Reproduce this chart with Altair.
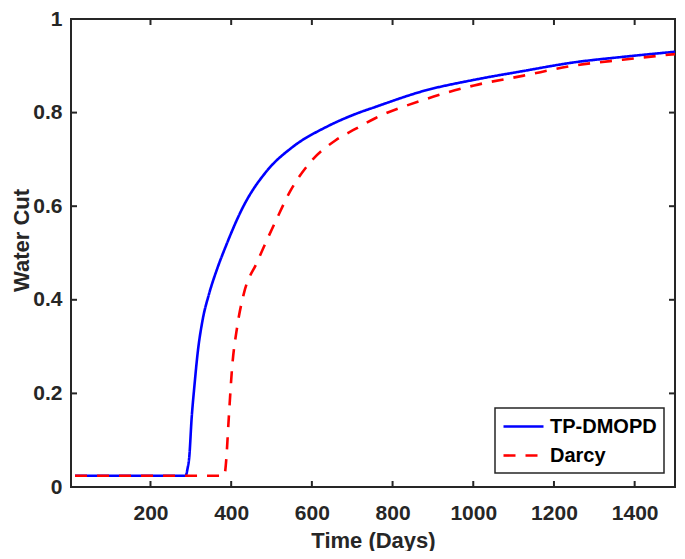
import altair as alt
import pandas as pd

# ---- data ----
days_tp = [13, 287, 292, 296, 302, 309, 317, 329, 345, 366, 386, 431, 488, 553, 635, 708, 757, 880, 1002, 1125, 1247, 1370, 1500]
wc_tp = [0.024, 0.024, 0.04, 0.063, 0.147, 0.217, 0.287, 0.356, 0.412, 0.468, 0.513, 0.601, 0.675, 0.727, 0.769, 0.797, 0.812, 0.847, 0.870, 0.889, 0.907, 0.919, 0.930]

days_darcy = [13, 383, 387, 394, 402, 415, 431, 464, 513, 545, 594, 659, 708, 757, 880, 1002, 1125, 1247, 1370, 1500]
wc_darcy = [0.024, 0.024, 0.05, 0.147, 0.252, 0.343, 0.412, 0.480, 0.573, 0.630, 0.692, 0.741, 0.765, 0.788, 0.828, 0.858, 0.879, 0.900, 0.913, 0.925]

series = ["TP-DMOPD", "Darcy"]
x_ticks = [200, 400, 600, 800, 1000, 1200, 1400]
y_ticks = [0, 0.2, 0.4, 0.6, 0.8, 1]

df_tp = pd.DataFrame({"Time": days_tp, "WC": wc_tp, "Model": series[0]})
df_da = pd.DataFrame({"Time": days_darcy, "WC": wc_darcy, "Model": series[1]})
df_xt = pd.DataFrame({"t": x_ticks})
df_yt = pd.DataFrame({"v": y_ticks[1:-1]})

W, H = 604, 468
FONT = "Liberation Sans"
DARK = "#262626"

xscale = alt.Scale(domain=[3, 1500], nice=False, zero=False)
yscale = alt.Scale(domain=[0, 1], nice=False)

color = alt.Color("Model:N", scale=alt.Scale(domain=series, range=["#0000ff", "#ff0000"]),
                  legend=alt.Legend(title=None))
dash = alt.StrokeDash("Model:N", scale=alt.Scale(domain=series, range=[[1, 0], [12, 10]]),
                      legend=alt.Legend(title=None))

xaxis = alt.Axis(values=x_ticks, title="Time (Days)", ticks=False, domain=False, grid=False,
                 labelPadding=15, titleY=60, titleBaseline="alphabetic", format="d")
yaxis = alt.Axis(values=y_ticks, title="Water Cut", ticks=False, domain=False, grid=False,
                 labelPadding=9, titleX=-43, titleY=221, titleBaseline="alphabetic", format="~g")

line_tp = alt.Chart(df_tp).mark_line(strokeWidth=2.6, interpolate="monotone").encode(
    x=alt.X("Time:Q", scale=xscale, axis=xaxis),
    y=alt.Y("WC:Q", scale=yscale, axis=yaxis),
    color=color, strokeDash=dash)

line_da = alt.Chart(df_da).mark_line(strokeWidth=2.6, interpolate="monotone", strokeCap="butt").encode(
    x=alt.X("Time:Q", scale=xscale),
    y=alt.Y("WC:Q", scale=yscale),
    color=color, strokeDash=dash)

tick_bottom = alt.Chart(df_xt).mark_rule(color=DARK, strokeWidth=2).encode(
    x=alt.X("t:Q", scale=xscale), y=alt.value(H), y2=alt.value(H - 6))
tick_top = alt.Chart(df_xt).mark_rule(color=DARK, strokeWidth=2).encode(
    x=alt.X("t:Q", scale=xscale), y=alt.value(0), y2=alt.value(6))
tick_left = alt.Chart(df_yt).mark_rule(color=DARK, strokeWidth=2).encode(
    y=alt.Y("v:Q", scale=yscale), x=alt.value(0), x2=alt.value(6))
tick_right = alt.Chart(df_yt).mark_rule(color=DARK, strokeWidth=2).encode(
    y=alt.Y("v:Q", scale=yscale), x=alt.value(W), x2=alt.value(W - 6))

chart = alt.layer(line_tp, line_da, tick_bottom, tick_top, tick_left, tick_right).properties(
    width=W, height=H,
    autosize=alt.AutoSizeParams(type="none"),
    padding={"left": 63, "top": 11, "right": 2, "bottom": 64},
).configure_view(
    stroke=DARK, strokeWidth=2
).configure_axis(
    labelFont=FONT, labelFontWeight="bold", labelFontSize=21, labelColor=DARK,
    titleFont=FONT, titleFontWeight="bold", titleFontSize=22, titleColor=DARK,
).configure_legend(
    orient="none", legendX=424, legendY=389,
    strokeColor=DARK, strokeWidth=1.5, fillColor="white", padding=7, cornerRadius=0,
    labelFont=FONT, labelFontWeight="bold", labelFontSize=20, labelColor="black",
    symbolType="M-1,0H3", symbolSize=400, symbolStrokeWidth=2.6,
    rowPadding=7, labelOffset=25,
)

chart.save("out.html", embed_options={"renderer": "svg", "actions": False})
